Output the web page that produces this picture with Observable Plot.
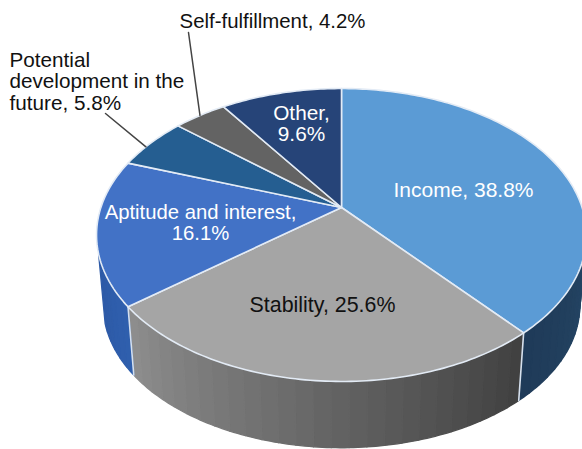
<!DOCTYPE html>
<html>
<head>
<meta charset="utf-8">
<style>
  html, body { margin: 0; padding: 0; background: #fff; overflow: hidden; }
  svg { display: block; }
</style>
<script src="https://cdn.jsdelivr.net/npm/d3@7"></script>
<script src="https://cdn.jsdelivr.net/npm/@observablehq/plot@0.6"></script>
</head>
<body>
<script>
// Shares of reasons for choosing a job, in percent, clockwise from twelve o'clock.
const categories = ["Income", "Stability", "Aptitude and interest", "Potential\ndevelopment in the\nfuture", "Self-fulfillment", "Other"];
const shares = [38.8, 25.6, 16.1, 5.8, 4.2, 9.6];
const separators = [" ", " ", "\n", " ", " ", "\n"];
const faceColors = ["#5b9bd5", "#a5a5a5", "#4272c6", "#255e91", "#636363", "#264478"];
const sideFrom = ["#264868", "#8f8f8f", "#2f5fae", "#255e91", "#636363", "#264478"];
const sideTo = ["#1f3b58", "#3f3f3f", "#2d5aa6", "#255e91", "#636363", "#264478"];

// Perspective of the tilted disc: centre, semi-axes and foreshortening of the near edge.
const centerX = 341, topCenterY = 207, bottomCenterY = 278;
const radiusX = 240.6, radiusY = 141.3, tilt = 0.1877, bottomScale = 0.973;

function rim(angle, lower = false) {
  const u = Math.sin(angle), v = Math.cos(angle), w = 1 + tilt * v;
  const s = lower ? bottomScale : 1;
  return {
    x: centerX + s * radiusX * u / w,
    y: (lower ? bottomCenterY : topCenterY) - s * radiusY * v / w
  };
}

const total = d3.sum(shares);
const ends = d3.cumsum(shares).map(c => c / total * 2 * Math.PI);
const starts = ends.map((_, i) => (i ? ends[i - 1] : 0));
const rad = Math.PI / 180;

// Top faces as closed polygons: apex, arc, back to the apex.
const faceRows = categories.flatMap((name, i) => {
  const apex = {x: centerX, y: topCenterY};
  const n = Math.max(12, Math.ceil((ends[i] - starts[i]) / (1 * rad)));
  const arc = d3.range(n + 1).map(k => rim(starts[i] + (ends[i] - starts[i]) * k / n));
  return [apex, ...arc, apex].map(p => ({...p, id: i, fill: faceColors[i]}));
});

// The visible wall, cut in narrow bands so the shading steps along the rim.
const visibleFrom = 92 * rad, visibleTo = 252 * rad, bandStep = 3.6 * rad;
const sideRows = categories.flatMap((name, i) => {
  const a0 = Math.max(starts[i], visibleFrom), a1 = Math.min(ends[i], visibleTo);
  if (a1 <= a0) return [];
  const n = Math.ceil((a1 - a0) / bandStep);
  const color = d3.interpolateRgb(sideFrom[i], sideTo[i]);
  return d3.range(n).flatMap(k => {
    const b0 = a0 + (a1 - a0) * k / n, b1 = a0 + (a1 - a0) * (k + 1) / n;
    // Income shades towards its end; Stability runs right to left, so flip its ramp.
    const c = color(i === 1 ? 1 - (k + 0.5) / n : (k + 0.5) / n);
    const top = d3.range(5).map(j => rim(b0 + (b1 - b0) * j / 4));
    const bottom = d3.range(5).map(j => rim(b1 - (b1 - b0) * j / 4, true));
    return [...top, ...bottom, top[0]].map(p => ({...p, id: `${i}-${k}`, fill: c}));
  });
});

// Pale seams where two walls meet, dropping from the rim to the lower edge.
const seamRows = [ends[0], ends[1]].flatMap((a, i) =>
  [rim(a), rim(a, true)].map(p => ({...p, id: i}))
);

// Label placement in chart units, independent of the values.
const labelX = [463, 322, 200, 9, 272, 301];
const labelY = [190, 304, 222, 81, 21, 123];
const labelSize = [21, 21.4, 20.3, 20.7, 20.4, 20.8];
const labelAnchor = ["middle", "middle", "middle", "start", "middle", "middle"];
const labelColor = ["#fff", "#111", "#fff", "#111", "#111", "#fff"];
const labels = categories.map((name, i) => ({
  text: `${name},${separators[i]}${shares[i].toFixed(1)}%`,
  x: labelX[i], y: labelY[i], size: labelSize[i], anchor: labelAnchor[i], color: labelColor[i]
}));

// Leader lines run from beside the outside labels to the rim of their slices.
const leaderStarts = [[3, 105, 113, 0.4], [4, 188, 32, 0.5]];
const leaderRows = leaderStarts.flatMap(([i, x, y, along], id) => {
  const end = rim(starts[i] + (ends[i] - starts[i]) * along);
  return [{x, y, id}, {...end, id}];
});

const textMark = d => Plot.text([d], {
  x: "x", y: "y", text: "text", fill: d.color,
  textAnchor: d.anchor, lineAnchor: "middle",
  fontSize: d.size, lineHeight: 1.03, fontFamily: "Liberation Sans, Arial, sans-serif"
});

const chart = Plot.plot({
  width: 582,
  height: 449,
  margin: 0,
  style: {background: "#fff"},
  x: {domain: [0, 582], range: [0, 582], axis: null},
  y: {domain: [0, 449], range: [0, 449], axis: null},
  color: {type: "identity"},
  marks: [
    Plot.line(sideRows, {x: "x", y: "y", z: "id", fill: "fill", stroke: "fill", strokeWidth: 1.3}),
    Plot.line(seamRows, {x: "x", y: "y", z: "id", stroke: "#d5e0ee", strokeWidth: 1.6}),
    Plot.line(faceRows, {x: "x", y: "y", z: "id", fill: "fill", stroke: "#e3ebf5", strokeWidth: 1.6}),
    Plot.line(leaderRows, {x: "x", y: "y", z: "id", stroke: "#444", strokeWidth: 1.5}),
    ...labels.map(textMark)
  ]
});
document.body.append(chart);
</script>
</body>
</html>
